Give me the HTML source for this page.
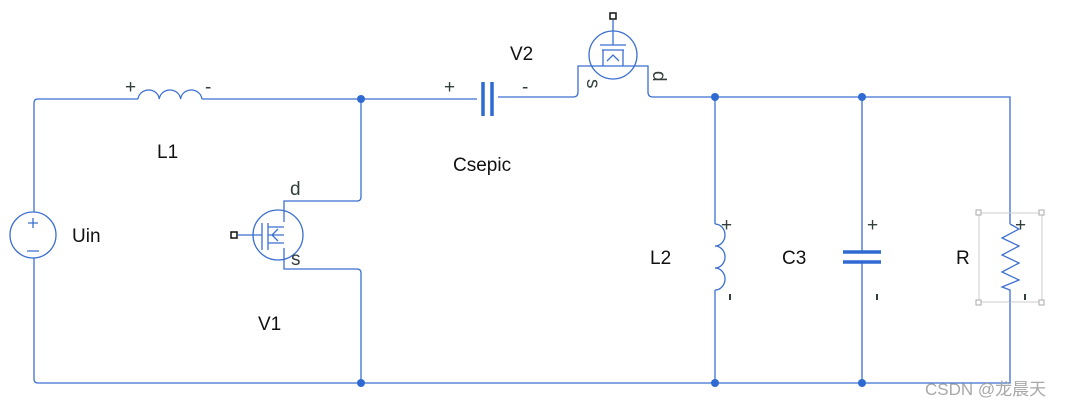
<!DOCTYPE html>
<html><head><style>
body{margin:0;background:#fff;}
svg{display:block;font-family:"Liberation Sans",sans-serif;}
.w{fill:none;stroke:#3b6fd1;stroke-width:1.3;}
.t{fill:#333f3c;font-size:19px;}
.l{fill:#111;font-size:19px;}
</style></head><body>
<svg width="1072" height="408" viewBox="0 0 1072 408">
<path class="w" d="M34,212 V103 Q34,99 38,99 H138 M202,99 H477"/>
<path class="w" d="M34,258 V379 Q34,383 38,383 H1010 V302"/>
<path class="w" d="M361,99 V197 Q361,201 357,201 H284 V222"/>
<path class="w" d="M284,248 V269 H357 Q361,269 361,273 V383"/>
<path class="w" d="M498,97 H573 Q578,97 578,92 V66 H648 V92 Q648,97 653,97 H1010 V224"/>
<path class="w" d="M715,97 V224 M715,290 V383 M862,97 V252 M862,262 V383"/>
<g fill="#2f6ad3"><circle cx="361" cy="99" r="4"/><circle cx="715" cy="97" r="4"/><circle cx="862" cy="97" r="4"/><circle cx="361" cy="383" r="4"/><circle cx="715" cy="383" r="4"/><circle cx="862" cy="383" r="4"/></g>
<path class="w" d="M138,99 a10.7,10 0 0 1 21.3,0 a10.7,10 0 0 1 21.3,0 a10.7,10 0 0 1 21.3,0"/>
<circle class="w" cx="33" cy="235" r="23"/>
<path class="w" d="M28,223 h10 M33,218 v10 M27,251 h12"/>
<circle class="w" cx="278" cy="235" r="25"/>
<path class="w" d="M238,235 H262 M262,223 V250 M268,223 V250 M268,227 H284 M268,243 H284 M268,235 H284 M278,229 L272,235 L278,241"/>
<rect x="231" y="232" width="6" height="6" fill="#fff" stroke="#111" stroke-width="1.5"/>
<path d="M483,82 V116 M492,82 V116" stroke="#2f6ad3" stroke-width="3.5"/>
<circle class="w" cx="613" cy="55" r="24"/>
<path class="w" d="M613,20 V45 M600,45 H626 M602,50 H624 M603,50 V66 M623,50 V66 M607,61 L613,55 L619,61"/>
<rect x="610" y="13" width="6" height="6" fill="#fff" stroke="#111" stroke-width="1.5"/>
<path class="w" d="M715,224 a10,11 0 0 1 0,22 a10,11 0 0 1 0,22 a10,11 0 0 1 0,22"/>
<path d="M843,252 H881 M843,262 H881" stroke="#2f6ad3" stroke-width="3.5"/>
<rect x="979" y="213" width="63" height="89" fill="none" stroke="#ccc" stroke-width="1"/>
<g fill="#fff" stroke="#aaa" stroke-width="1"><rect x="976" y="210" width="5" height="5"/><rect x="1039" y="210" width="5" height="5"/><rect x="976" y="300" width="5" height="5"/><rect x="1039" y="300" width="5" height="5"/></g>
<path class="w" d="M1010,224 L1019,229 L1002,238 L1019,246 L1002,255 L1019,263 L1002,272 L1019,280 L1002,287 L1010,290 V302"/>
<g class="t">
<text x="125" y="93">+</text><text x="205" y="93">-</text>
<text x="444" y="93">+</text><text x="522" y="93">-</text>
<text x="721" y="231">+</text>
<text x="867" y="231">+</text>
<text x="1015" y="231">+</text>
<text x="290" y="195" font-size="19">d</text><text x="291" y="265" font-size="19">s</text>
<text transform="translate(587,79) rotate(90)" font-size="19">s</text>
<text transform="translate(653,71) rotate(90)" font-size="19">d</text>
</g>
<g fill="#333f3c"><rect x="729" y="294" width="2" height="6"/><rect x="876" y="294" width="2" height="6"/><rect x="1024" y="294" width="2" height="6"/></g>
<g class="l">
<text x="157" y="158">L1</text><text x="72" y="242">Uin</text><text x="258" y="330">V1</text>
<text x="510" y="60">V2</text><text x="453" y="171">Csepic</text>
<text x="650" y="264">L2</text><text x="782" y="264">C3</text><text x="956" y="264">R</text>
</g>
<text x="925" y="395" font-size="17" fill="#a8a8a8" font-family="'Liberation Sans','Noto Sans CJK SC',sans-serif">CSDN @龙晨天</text>
</svg>
</body></html>
